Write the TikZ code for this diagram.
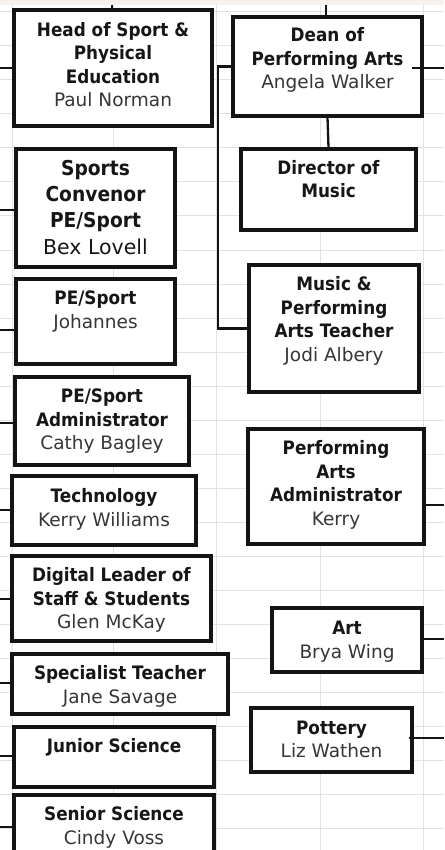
\documentclass[tikz,border=0pt]{standalone}
\usepackage{fontspec}
\setmainfont{DejaVu Sans}[FakeStretch=0.91]
\newfontfamily\namefont{DejaVu Sans}
\definecolor{gridc}{HTML}{E2E2E2}
\definecolor{bandc}{HTML}{F7F2EE}
\definecolor{titlec}{HTML}{161616}
\definecolor{namec}{HTML}{363636}
\tikzset{
  boxst/.style={draw=black!92, line width=3.1pt, rectangle, inner sep=0pt, fill=white},
  lbl/.style={align=center, inner sep=0pt, text=titlec, font=\fontsize{18.5}{23.5}\selectfont},
  lblbig/.style={align=center, inner sep=0pt, text=titlec, font=\fontsize{20.5}{26}\selectfont},
  conn/.style={draw=black!92, line width=2.3pt},
  gridl/.style={draw=gridc, line width=1pt}
}
% #1 style, #2 name, #3 x1, #4 y1, #5 x2, #6 y2, #7 offset of last baseline, #8 text
\newcommand{\orgbox}[8][lbl]{%
  \node[boxst, minimum width={(#5-#3)*1pt}, minimum height={(#6-#4)*1pt}] (#2) at ({(#3+#5)/2},{(#4+#6)/2}) {};
  \node[#1, anchor=base] (#2-t) at ({(#3+#5)/2},{#4+#7}) {#8};
}
\newcommand{\nm}[1]{{\namefont\mdseries\color{namec}#1}}
\begin{document}
\begin{tikzpicture}[x=1pt,y=-1pt]
\useasboundingbox (0,0) rectangle (444,850);
\clip (0,0) rectangle (444,850);
\fill[white] (0,0) rectangle (444,850);
\fill[bandc] (0,0) rectangle (444,5);
\foreach \gx in {12,113,216,320,423} \draw[gridl] (\gx,5) -- (\gx,850);
\foreach \gy in {12,46,...,828} \draw[gridl] (0,\gy) -- (444,\gy);

% connector coordinates
\coordinate (topL) at (112,5);
\coordinate (topR) at (326,5);
\coordinate (bus) at (218,68);
\coordinate (rdean0) at (412,68);
\coordinate (rdean) at (444,68);
\coordinate (rpaa) at (444,505);
\coordinate (rart) at (444,639);
\coordinate (rpot0) at (409,738);
\coordinate (rpot) at (444,738);
\coordinate (shos) at (0,68);
\coordinate (ssc) at (0,210);
\coordinate (spej) at (0,330);
\coordinate (spea) at (0,423);
\coordinate (stech) at (0,510);
\coordinate (sdig) at (0,599);
\coordinate (sspec) at (0,683);
\coordinate (sjun) at (0,756);
\coordinate (ssen) at (0,827);

% left column
\orgbox{hos}{14}{10}{212}{126}{97}{\textbf{Head of Sport \&}\\\textbf{Physical}\\\textbf{Education}\\\nm{Paul Norman}}
\orgbox[lblbig]{sc}{16}{149}{175}{267}{105}{\textbf{Sports}\\\textbf{Convenor}\\\textbf{PE/Sport}\\{\namefont\mdseries Bex Lovell}}
\orgbox{pej}{16}{279}{175}{364}{49}{\textbf{PE/Sport}\\\nm{Johannes}}
\orgbox{pea}{15}{377}{189}{465}{72.5}{\textbf{PE/Sport}\\\textbf{Administrator}\\\nm{Cathy Bagley}}
\orgbox{tech}{12}{476}{196}{545}{50}{\textbf{Technology}\\\nm{Kerry Williams}}
\orgbox{dig}{12}{556}{211}{641}{72.5}{\textbf{Digital Leader of}\\\textbf{Staff \& Students}\\\nm{Glen McKay}}
\orgbox{spec}{12}{654}{228}{714}{49}{\textbf{Specialist Teacher}\\\nm{Jane Savage}}
\orgbox{jun}{14}{727}{214}{787}{25.5}{\textbf{Junior Science}}
\orgbox{sen}{14}{795}{214}{870}{49}{\textbf{Senior Science}\\\nm{Cindy Voss}}

% right column
\orgbox{dean}{233}{17}{422}{116}{72}{\textbf{Dean of}\\\textbf{Performing Arts}\\\nm{Angela Walker}}
\orgbox{dom}{241}{149}{416}{230}{49}{\textbf{Director of}\\\textbf{Music}}
\orgbox{mpa}{249}{265}{419}{392}{96}{\textbf{Music \&}\\\textbf{Performing}\\\textbf{Arts Teacher}\\\nm{Jodi Albery}}
\orgbox{paa}{248}{429}{424}{544}{96}{\textbf{Performing}\\\textbf{Arts}\\\textbf{Administrator}\\\nm{Kerry}}
\orgbox{art}{272}{608}{422}{672}{50}{\textbf{Art}\\\nm{Brya Wing}}
\orgbox{pot}{251}{708}{412}{772}{49.5}{\textbf{Pottery}\\\nm{Liz Wathen}}

% connectors
\draw[conn] (topL) -- (topL |- hos.north);
\draw[conn] (topR) -- (topR |- dean.north);
\draw[conn] (dean.west) -- (bus |- dean.west) |- (mpa.west);
\draw[conn] (rdean0) -- (rdean);
\draw[conn] (dean.south) -- (dom.north);
\draw[conn] (rpaa) -- (rpaa -| paa.east);
\draw[conn] (rart) -- (rart -| art.east);
\draw[conn] (rpot0) -- (rpot);
\draw[conn] (shos) -- (shos -| hos.west);
\draw[conn] (ssc) -- (ssc -| sc.west);
\draw[conn] (spej) -- (spej -| pej.west);
\draw[conn] (spea) -- (spea -| pea.west);
\draw[conn] (stech) -- (stech -| tech.west);
\draw[conn] (sdig) -- (sdig -| dig.west);
\draw[conn] (sspec) -- (sspec -| spec.west);
\draw[conn] (sjun) -- (sjun -| jun.west);
\draw[conn] (ssen) -- (ssen -| sen.west);
\end{tikzpicture}
\end{document}
